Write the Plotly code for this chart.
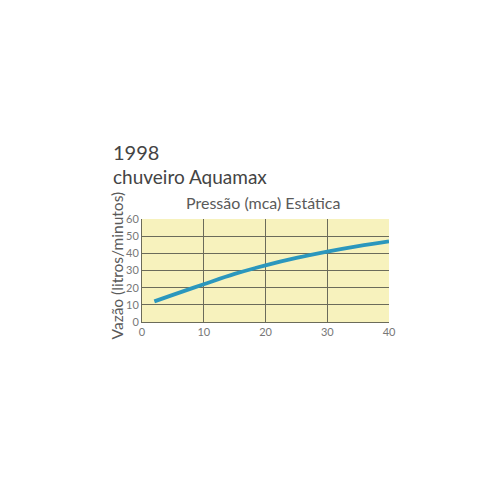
import plotly.graph_objects as go

# pressão estática (mca) vs vazão (litros/minutos)
pressao = [2, 5, 10, 15, 20, 25, 30, 35, 40]
vazao = [12, 15.8, 22, 28, 33, 37.3, 41, 44.2, 47]

x_ticks = [0, 10, 20, 30, 40]
y_ticks = [0, 10, 20, 30, 40, 50, 60]

txt = "#5a5a5a"
grid = "#6b6b5a"

fig = go.Figure()
fig.add_trace(go.Scatter(x=pressao, y=vazao, mode="lines", line_shape="spline",
                         line=dict(color="#2b97bd", width=3.8), showlegend=False))

fig.update_layout(
    width=500, height=500,
    paper_bgcolor="white", plot_bgcolor="#f7f2bd",
    margin=dict(l=134, r=119, t=211, b=186),
    font=dict(family="Lato", color=txt, size=11),
)
fig.update_xaxes(range=[0, 40], tickvals=x_ticks, showgrid=True, gridcolor=grid, gridwidth=0.8,
                 showline=True, linecolor=grid, linewidth=1, ticks="", zeroline=False,
                 tickfont=dict(size=11, color="#777"))
fig.update_yaxes(range=[0, 60], tickvals=y_ticks, showgrid=True, gridcolor=grid, gridwidth=0.8,
                 showline=True, linecolor=grid, linewidth=1, ticks="", zeroline=False,
                 tickfont=dict(size=11, color="#777"))

fig.add_annotation(text="Vazão (litros/minutos)", xref="paper", yref="paper", x=-0.101, y=0.55,
                   xanchor="center", yanchor="middle", textangle=-90, showarrow=False,
                   font=dict(size=15.5, color=txt))
fig.add_annotation(text="1998", xref="paper", yref="paper", x=-0.125, y=1.65,
                   xanchor="left", yanchor="middle", showarrow=False,
                   font=dict(size=20, color="#444"))
fig.add_annotation(text="chuveiro Aquamax", xref="paper", yref="paper", x=-0.125, y=1.41,
                   xanchor="left", yanchor="middle", showarrow=False,
                   font=dict(size=19, color="#444"))
fig.add_annotation(text="Pressão (mca) Estática", xref="paper", yref="paper", x=0.49, y=1.16,
                   xanchor="center", yanchor="middle", showarrow=False,
                   font=dict(size=16, color=txt))

fig.write_html("out.html")
